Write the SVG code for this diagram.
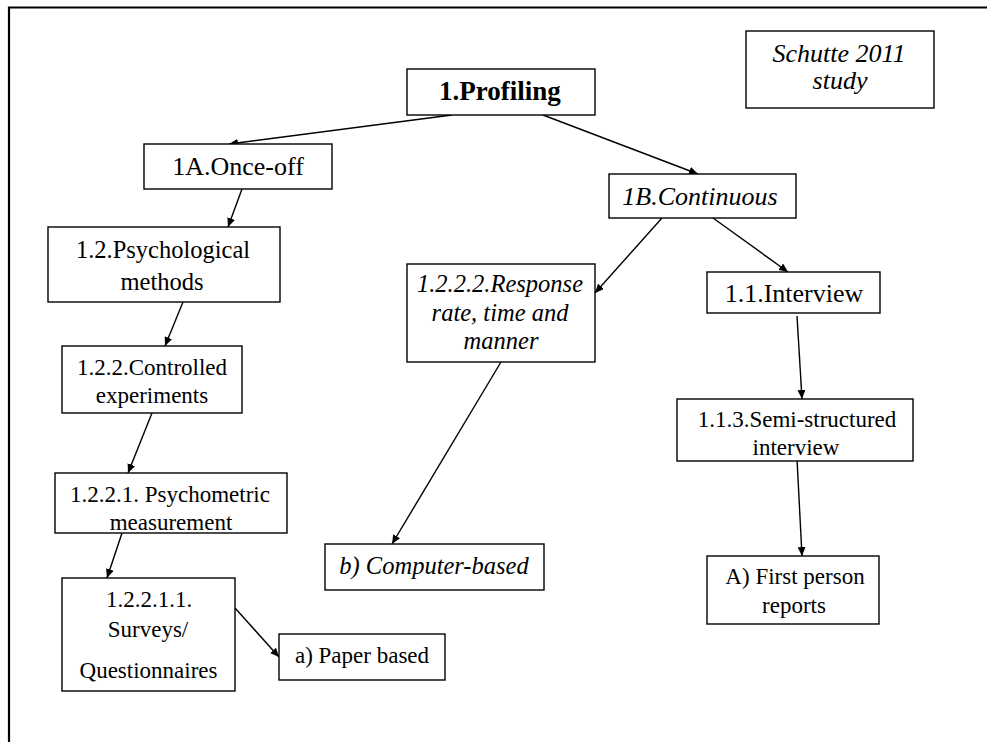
<svg xmlns="http://www.w3.org/2000/svg" width="987" height="742" viewBox="0 0 987 742">
  <style>
    .box { fill: #ffffff; stroke: #000000; stroke-width: 1.4; }
    text { font-family: "Liberation Serif", LiberationSerif, Tinos, "Times New Roman", Times, "DejaVu Serif", serif; fill: #000000; text-anchor: middle; font-size: 23px; }
    .big { font-size: 26px; }
    .it { font-style: italic; font-size: 24.5px; }
    .bold { font-weight: bold; font-size: 27px; }
    .edge { stroke: #000000; stroke-width: 1.4; fill: none; marker-end: url(#arrow); }
  </style>
  <defs>
    <marker id="arrow" markerUnits="userSpaceOnUse" markerWidth="10" markerHeight="8" refX="9" refY="4" orient="auto">
      <path d="M0,0 L9,4 L0,8 Z" fill="#000000"/>
    </marker>
  </defs>
  <rect x="0" y="0" width="987" height="742" fill="#ffffff"/>

  <!-- page frame (top and left rules) -->
  <path d="M9,742 L9,7.5 L987,7.5" fill="none" stroke="#000000" stroke-width="2.2"/>

  <g id="connectors">
    <line class="edge" x1="452" y1="115" x2="229" y2="144"/>
    <line class="edge" x1="543" y1="115" x2="698" y2="174"/>
    <line class="edge" x1="242" y1="189" x2="228" y2="227"/>
    <line class="edge" x1="183" y1="302" x2="165" y2="346"/>
    <line class="edge" x1="152" y1="413" x2="128" y2="473"/>
    <line class="edge" x1="122" y1="533" x2="107" y2="578"/>
    <line class="edge" x1="235" y1="608" x2="279" y2="657"/>
    <line class="edge" x1="662" y1="218" x2="595" y2="293"/>
    <line class="edge" x1="713" y1="218" x2="788" y2="272"/>
    <line class="edge" x1="501" y1="362" x2="392" y2="544"/>
    <line class="edge" x1="797" y1="316" x2="802" y2="399"/>
    <line class="edge" x1="797" y1="459" x2="802" y2="556"/>
  </g>

  <g id="profiling">
    <rect class="box" x="407" y="69" width="188" height="46"/>
    <text class="bold" x="500" y="100">1.Profiling</text>
  </g>

  <g id="schutte">
    <rect class="box" x="746" y="31" width="188" height="77"/>
    <text class="it" style="font-size:26px" x="839" y="62">Schutte 2011</text>
    <text class="it" style="font-size:26px" x="840" y="89">study</text>
  </g>

  <g id="once-off">
    <rect class="box" x="144" y="144" width="188" height="45"/>
    <text class="big" x="238" y="175">1A.Once-off</text>
  </g>

  <g id="continuous">
    <rect class="box" x="609" y="174" width="187" height="44"/>
    <text class="it" style="font-size:26px" x="700" y="205">1B.Continuous</text>
  </g>

  <g id="psychological">
    <rect class="box" x="48" y="227" width="232" height="75"/>
    <text style="font-size:24.5px" x="163" y="258">1.2.Psychological</text>
    <text style="font-size:24.5px" x="162" y="290">methods</text>
  </g>

  <g id="controlled">
    <rect class="box" x="62" y="346" width="180" height="67"/>
    <text x="152" y="375">1.2.2.Controlled</text>
    <text x="152" y="403">experiments</text>
  </g>

  <g id="psychometric">
    <rect class="box" x="55" y="473" width="232" height="60"/>
    <text x="170" y="502">1.2.2.1. Psychometric</text>
    <text x="171" y="530">measurement</text>
  </g>

  <g id="surveys">
    <rect class="box" x="62" y="578" width="173" height="113"/>
    <text x="149" y="607">1.2.2.1.1.</text>
    <text x="148" y="637">Surveys/</text>
    <text x="148.5" y="678">Questionnaires</text>
  </g>

  <g id="paper-based">
    <rect class="box" x="279" y="634" width="166" height="46"/>
    <text x="362" y="663">a) Paper based</text>
  </g>

  <g id="response">
    <rect class="box" x="407" y="264" width="188" height="98"/>
    <text class="it" x="500" y="292">1.2.2.2.Response</text>
    <text class="it" x="500" y="321">rate, time and</text>
    <text class="it" x="501" y="349">manner</text>
  </g>

  <g id="interview">
    <rect class="box" x="707" y="272" width="173" height="41"/>
    <text class="big" x="794" y="302">1.1.Interview</text>
  </g>

  <g id="semi-structured">
    <rect class="box" x="677" y="399" width="236" height="62"/>
    <text x="797" y="427">1.1.3.Semi-structured</text>
    <text x="796" y="455">interview</text>
  </g>

  <g id="computer-based">
    <rect class="box" x="325" y="544" width="219" height="46"/>
    <text class="it" x="434" y="574">b) Computer-based</text>
  </g>

  <g id="first-person">
    <rect class="box" x="707" y="556" width="172" height="68"/>
    <text x="795" y="584">A) First person</text>
    <text x="794" y="613">reports</text>
  </g>
</svg>
